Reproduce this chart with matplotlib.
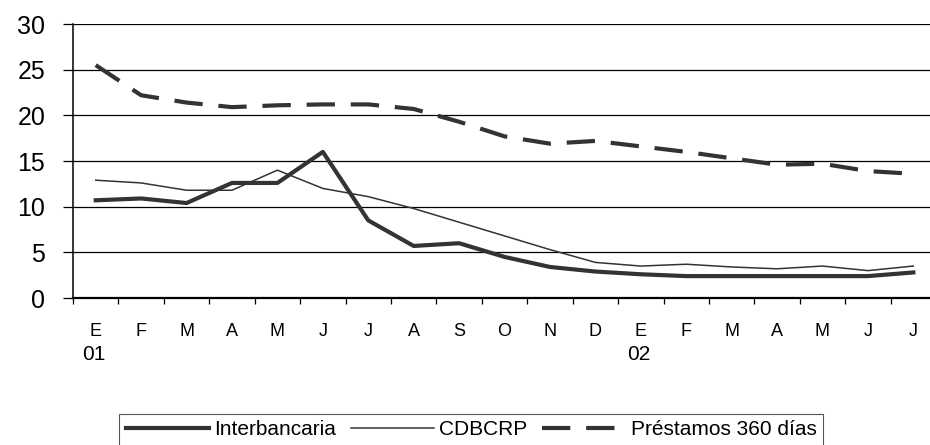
import matplotlib
matplotlib.use("Agg")
import matplotlib.pyplot as plt

plt.rcParams['font.family'] = ['Liberation Sans', 'DejaVu Sans']

months = ['E', 'F', 'M', 'A', 'M', 'J', 'J', 'A', 'S', 'O', 'N', 'D',
          'E', 'F', 'M', 'A', 'M', 'J', 'J']
years = {0: '01', 12: '02'}

interbancaria = [10.7, 10.9, 10.4, 12.6, 12.6, 16.0, 8.5, 5.7, 6.0, 4.5,
                 3.4, 2.9, 2.6, 2.4, 2.4, 2.4, 2.4, 2.4, 2.8]
cdbcrp = [12.9, 12.6, 11.8, 11.8, 14.0, 12.0, 11.1, 9.8, 8.3, 6.8,
          5.3, 3.9, 3.5, 3.7, 3.4, 3.2, 3.5, 3.0, 3.5]
prestamos = [25.5, 22.2, 21.4, 20.9, 21.1, 21.2, 21.2, 20.7, 19.3, 17.7,
             16.9, 17.2, 16.6, 16.0, 15.3, 14.6, 14.7, 13.9, 13.6]

x = list(range(len(months)))
line_col = '#333333'

fig = plt.figure(figsize=(9.3, 4.45), dpi=100)
ax = fig.add_axes([0.0785, 0.3303, 0.928, 0.6157])  # llx, lly, w, h

ax.plot(x, interbancaria, color=line_col, lw=3.0, label='Interbancaria')
ax.plot(x, cdbcrp, color=line_col, lw=1.1, label='CDBCRP')
ax.plot(x, prestamos, color=line_col, lw=3.0, dashes=(6.8, 3.8),
        label='Préstamos 360 días')

ax.set_xlim(-0.5, len(months) - 0.5)
ax.set_ylim(0, 30)
ax.set_yticks(range(0, 31, 5))
ax.yaxis.grid(True, color='black', lw=0.9)
ax.set_axisbelow(True)
ax.tick_params(axis='y', length=7, width=0.9, pad=13, labelsize=18,
               direction='out')

ax.set_xticks(x)
ax.set_xticklabels(months)
ax.set_xticks([i - 0.5 for i in range(len(months) + 1)], minor=True)
ax.tick_params(axis='x', which='major', length=0, pad=18, labelsize=13)
ax.tick_params(axis='x', which='minor', length=4, width=0.9, direction='out')

for i, yr in years.items():
    ax.annotate(yr, xy=(i, 0), xycoords=('data', 'axes fraction'),
                xytext=(-1.5, -41), textcoords='offset points',
                ha='center', va='center', fontsize=15)

for side in ['top', 'right']:
    ax.spines[side].set_visible(False)
ax.spines['left'].set_linewidth(1.1)
ax.spines['bottom'].set_linewidth(1.6)

leg = fig.legend(loc='upper center', bbox_to_anchor=(471 / 930, 1 - 414 / 445),
                 ncol=3, fontsize=15, frameon=True, fancybox=False,
                 edgecolor='#555555', framealpha=1, handlelength=4.0,
                 handletextpad=0.25, columnspacing=0.7, borderpad=0.3,
                 borderaxespad=0)
leg.get_frame().set_linewidth(0.8)

fig.savefig('out.png', dpi=100)
